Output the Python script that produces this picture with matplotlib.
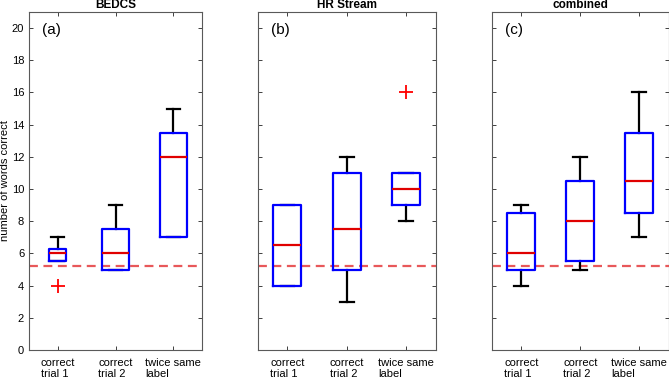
import matplotlib
matplotlib.use("Agg")
import matplotlib.pyplot as plt

plt.rcParams['font.family'] = ['Liberation Sans', 'DejaVu Sans']

# Data
categories = ['correct\ntrial 1', 'correct\ntrial 2', 'twice same\nlabel']
panel_titles = ['BEDCS', 'HR Stream', 'combined']
panel_tags = ['(a)', '(b)', '(c)']
chance_level = 5.2

bedcs_q1 = [5.5, 5, 7]
bedcs_med = [6, 6, 12]
bedcs_q3 = [6.25, 7.5, 13.5]
bedcs_lo = [5.5, 5, 7]
bedcs_hi = [7, 9, 15]
bedcs_fliers = [[4], [], []]

hr_q1 = [4, 5, 9]
hr_med = [6.5, 7.5, 10]
hr_q3 = [9, 11, 11]
hr_lo = [4, 3, 8]
hr_hi = [9, 12, 11]
hr_fliers = [[], [], [16]]

comb_q1 = [5, 5.5, 8.5]
comb_med = [6, 8, 10.5]
comb_q3 = [8.5, 10.5, 13.5]
comb_lo = [4, 5, 7]
comb_hi = [9, 12, 16]
comb_fliers = [[], [], []]

panels = [
    (bedcs_q1, bedcs_med, bedcs_q3, bedcs_lo, bedcs_hi, bedcs_fliers),
    (hr_q1, hr_med, hr_q3, hr_lo, hr_hi, hr_fliers),
    (comb_q1, comb_med, comb_q3, comb_lo, comb_hi, comb_fliers),
]

# layout (pixels -> figure fractions)
W, H = 669, 378
ax_left = [29, 257.7, 491.7]
ax_width = [173, 178, 177]
box_widths = [[0.3, 0.47, 0.47], [0.47, 0.47, 0.47], [0.47, 0.47, 0.47]]

fig = plt.figure(figsize=(W / 100, H / 100), dpi=100)

for i, (q1, med, q3, lo, hi, fl) in enumerate(panels):
    ax = fig.add_axes([ax_left[i] / W, 28 / H, ax_width[i] / W, 338 / H])
    stats = []
    for k in range(len(categories)):
        stats.append(dict(med=med[k], q1=q1[k], q3=q3[k],
                          whislo=lo[k], whishi=hi[k], fliers=fl[k]))
    ax.bxp(stats, positions=[1, 2, 3], widths=box_widths[i],
           capwidths=0.23, showfliers=True,
           boxprops=dict(color='#0000ff', linewidth=1.6, zorder=3),
           medianprops=dict(color='#e00000', linewidth=1.6, zorder=4),
           whiskerprops=dict(color='black', linewidth=1.6, zorder=2),
           capprops=dict(color='black', linewidth=1.6, zorder=2),
           flierprops=dict(marker='+', markeredgecolor='red',
                           markersize=10, markeredgewidth=1.3, linestyle='none'))
    ax.axhline(chance_level, color='#e8585a', linestyle=(0, (4, 2.5)),
               linewidth=1.6, zorder=1)

    ax.set_xlim(0.5, 3.5)
    ax.set_ylim(0, 21)
    ax.set_yticks(range(0, 21, 2))
    ax.set_xticks([1, 2, 3])
    ax.set_xticklabels(categories, fontsize=8, linespacing=1.2,
                       multialignment='left')
    ax.tick_params(direction='in', length=3, width=0.7, colors='0.25',
                   top=True, right=True, labelcolor='black', labelsize=8,
                   pad=3.5)
    ax.tick_params(axis='x', pad=5.5)
    if i > 0:
        ax.set_yticklabels([])
    else:
        ax.set_ylabel('number of words correct', fontsize=8, labelpad=1)
    for s in ax.spines.values():
        s.set_color('0.35')
        s.set_linewidth(0.8)
    ax.set_title(panel_titles[i], fontsize=8.5, fontweight='bold', pad=3)
    ax.text(0.72, 19.9, panel_tags[i], fontsize=11, ha='left', va='center')

plt.savefig('out.png', dpi=100)
